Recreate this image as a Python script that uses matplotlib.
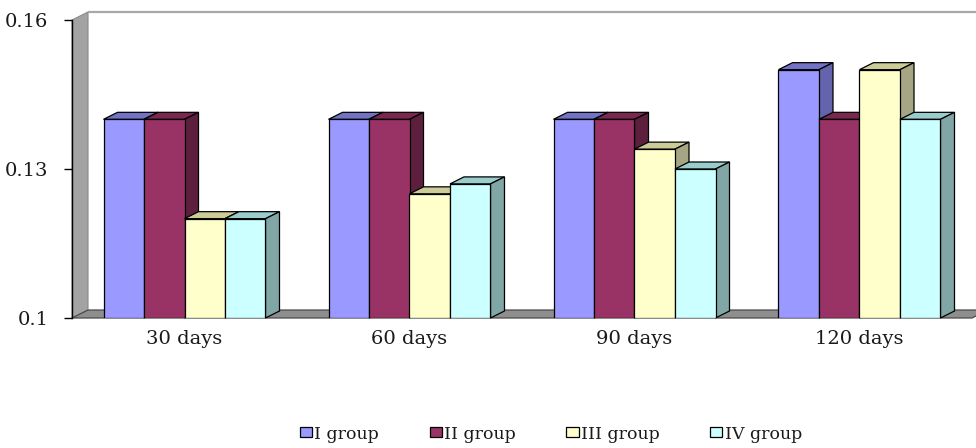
import matplotlib
matplotlib.use("Agg")
import matplotlib.pyplot as plt
from matplotlib.patches import Polygon, Rectangle

# Categories and series values
periods = ["30 days", "60 days", "90 days", "120 days"]
group_names = ["I group", "II group", "III group", "IV group"]
group_i = [0.14, 0.14, 0.14, 0.15]
group_ii = [0.14, 0.14, 0.14, 0.14]
group_iii = [0.12, 0.125, 0.134, 0.15]
group_iv = [0.12, 0.127, 0.13, 0.14]
y_ticks = [0.1, 0.13, 0.16]
y_tick_labels = ["0.1", "0.13", "0.16"]

series = [group_i, group_ii, group_iii, group_iv]

# Face colours: front, top (lit) and side (shaded) for each group
front_colors = ["#9999FF", "#993366", "#FFFFCC", "#CCFFFF"]
top_colors = ["#7373C6", "#7A2850", "#CCCC99", "#99CCCC"]
side_colors = ["#6464AC", "#5E1F3F", "#A6A684", "#80A6A6"]

W, H = 976, 448
fig = plt.figure(figsize=(W / 100, H / 100), dpi=100)
ax = fig.add_axes([72 / W, 130 / H, 900 / W, 298 / H])
y0, y1 = 0.1, 0.16
ax.set_xlim(0, len(periods))
ax.set_ylim(y0, y1)

# Size of one pixel in data units, for the oblique depth of the 3-D look
px_x = len(periods) / 900
px_y = (y1 - y0) / 298
wall_dx, wall_dy = 16 * px_x, 8 * px_y
bar_dx, bar_dy = 14 * px_x, 7 * px_y

# Side wall, floor and the upper edge of the back wall
ax.add_patch(Polygon([(0, y0), (0, y1), (wall_dx, y1 + wall_dy), (wall_dx, y0 + wall_dy)],
                     closed=True, facecolor="#A3A3A3", edgecolor="#8A8A8A", lw=0.8,
                     zorder=1, clip_on=False))
ax.add_patch(Polygon([(0, y0), (len(periods), y0),
                      (len(periods) + wall_dx, y0 + wall_dy), (wall_dx, y0 + wall_dy)],
                     closed=True, facecolor="#8E8E8E", edgecolor="#4A4A4A", lw=0.9,
                     zorder=1, clip_on=False))
ax.plot([wall_dx, len(periods) + 0.2], [y1 + wall_dy, y1 + wall_dy], color="#A8A8A8",
        lw=1.6, zorder=1, clip_on=False, solid_capstyle="butt")

bar_w = 0.18
z = 2
for j in range(len(periods)):
    for i, vals in enumerate(series):
        v = vals[j]
        x0 = j + 0.5 + (i - len(series) / 2) * bar_w
        x1 = x0 + bar_w
        # top face
        ax.add_patch(Polygon([(x0, v), (x1, v), (x1 + bar_dx, v + bar_dy), (x0 + bar_dx, v + bar_dy)],
                             closed=True, facecolor=top_colors[i], edgecolor="black",
                             lw=0.9, zorder=z, clip_on=False, joinstyle="miter"))
        # side face
        ax.add_patch(Polygon([(x1, y0), (x1 + bar_dx, y0 + bar_dy), (x1 + bar_dx, v + bar_dy), (x1, v)],
                             closed=True, facecolor=side_colors[i], edgecolor="black",
                             lw=0.9, zorder=z + 1, clip_on=False, joinstyle="miter"))
        # front face
        ax.bar(x0, v - y0, bottom=y0, width=bar_w, align="edge",
               color=front_colors[i], edgecolor="black", lw=0.9, zorder=z + 2)
        z += 3

# Axes styling
for s in ["top", "right", "bottom"]:
    ax.spines[s].set_visible(False)
ax.spines["left"].set_color("black")
ax.spines["left"].set_linewidth(1.0)
ax.spines["left"].set_zorder(200)

font = dict(family="DejaVu Serif")
ax.set_yticks(y_ticks, y_tick_labels, fontsize=14, **font)
ax.tick_params(axis="y", direction="out", length=6, width=1.0, pad=11, colors="black",
               labelcolor="#1a1a1a")
ax.set_xticks([j + 0.5 for j in range(len(periods))], periods, fontsize=14, **font)
ax.tick_params(axis="x", length=0, pad=9, labelcolor="#1a1a1a")

handles = [Rectangle((0, 0), 1, 1, facecolor=c, edgecolor="black", lw=0.9) for c in front_colors]
fig.legend(handles, group_names, loc="center", bbox_to_anchor=(551 / W, 1 - 434 / H),
           ncol=4, frameon=False, prop=dict(family="DejaVu Serif", size=12.5),
           handlelength=0.7, handleheight=0.5, handletextpad=0.15, columnspacing=2.9,
           labelcolor="#1a1a1a")

fig.savefig("out.png", dpi=100, facecolor="white")
